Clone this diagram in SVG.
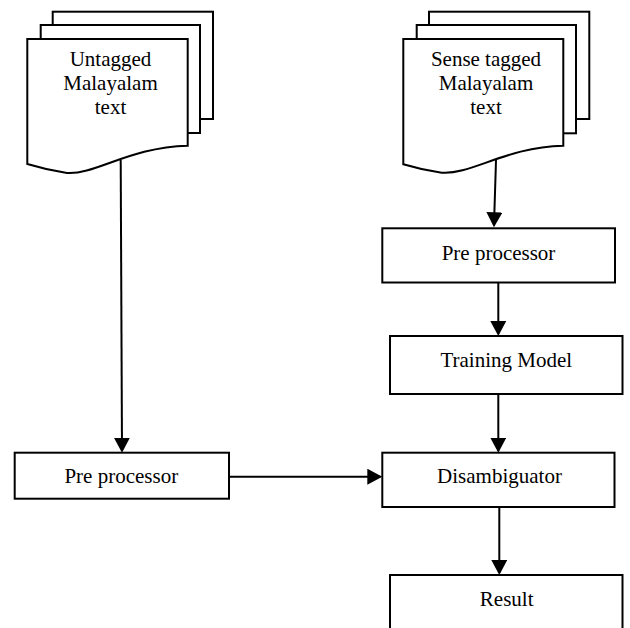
<svg xmlns="http://www.w3.org/2000/svg" width="630" height="628" viewBox="0 0 630 628">
<style>
.shape{fill:#fff;stroke:#000;stroke-width:2}
.lbl{font-family:"Liberation Serif","Times New Roman",serif;font-size:21px;fill:#000;text-anchor:middle}
.conn{stroke:#000;stroke-width:2;fill:none;marker-end:url(#ah)}
</style>
<defs>
<marker id="ah" markerUnits="userSpaceOnUse" markerWidth="16" markerHeight="16" viewBox="0 0 16 16" refX="13" refY="8" orient="auto">
<path d="M0,0 L15,8 L0,16 z" fill="#000"/>
</marker>
</defs>
<rect width="630" height="628" fill="#fff"/>
<g id="doc-untagged">
<rect class="shape" x="52.7" y="11.7" width="160.3" height="107.3"/>
<rect class="shape" x="40.7" y="25" width="159.3" height="108"/>
<path class="shape" d="M27.3,39 H187.7 V145.7 C130,147 95,175 67,173 Q47,170 27.3,164 Z"/>
<text class="lbl" x="110.5" y="66">Untagged</text>
<text class="lbl" x="110.5" y="90">Malayalam</text>
<text class="lbl" x="110.5" y="113.5">text</text>
</g>
<g id="doc-sense-tagged">
<rect class="shape" x="429" y="11.7" width="160.3" height="107.3"/>
<rect class="shape" x="416.7" y="25" width="159.3" height="108.3"/>
<path class="shape" d="M403.3,39 H563.3 V145.7 C506,147 471,175 441.7,172.7 Q422,170 403.3,164.3 Z"/>
<text class="lbl" x="486" y="66">Sense tagged</text>
<text class="lbl" x="486" y="90">Malayalam</text>
<text class="lbl" x="486" y="113.5">text</text>
</g>
<g id="preproc-right">
<rect class="shape" x="382.3" y="228.3" width="232.7" height="54.2"/>
<text class="lbl" x="498.5" y="260">Pre processor</text>
</g>
<g id="training-model">
<rect class="shape" x="390" y="336" width="232.5" height="58"/>
<text class="lbl" x="506.3" y="366.7">Training Model</text>
</g>
<g id="preproc-left">
<rect class="shape" x="14.7" y="452.7" width="214.3" height="46"/>
<text class="lbl" x="121.3" y="483.3">Pre processor</text>
</g>
<g id="disambiguator">
<rect class="shape" x="382.3" y="452.7" width="232.2" height="54.3"/>
<text class="lbl" x="499.5" y="483.3">Disambiguator</text>
</g>
<g id="result">
<rect class="shape" x="390" y="575" width="232.5" height="70"/>
<text class="lbl" x="506.7" y="606">Result</text>
</g>
<g id="connectors">
<line class="conn" x1="120.7" y1="160" x2="122" y2="450.7"/>
<line class="conn" x1="496" y1="160" x2="494" y2="225.3"/>
<line class="conn" x1="498.3" y1="282.5" x2="498.3" y2="334"/>
<line class="conn" x1="498.3" y1="394" x2="498.3" y2="450.7"/>
<line class="conn" x1="229" y1="476.7" x2="380.3" y2="476.7"/>
<line class="conn" x1="499.3" y1="507" x2="499.3" y2="573"/>
</g>
</svg>
